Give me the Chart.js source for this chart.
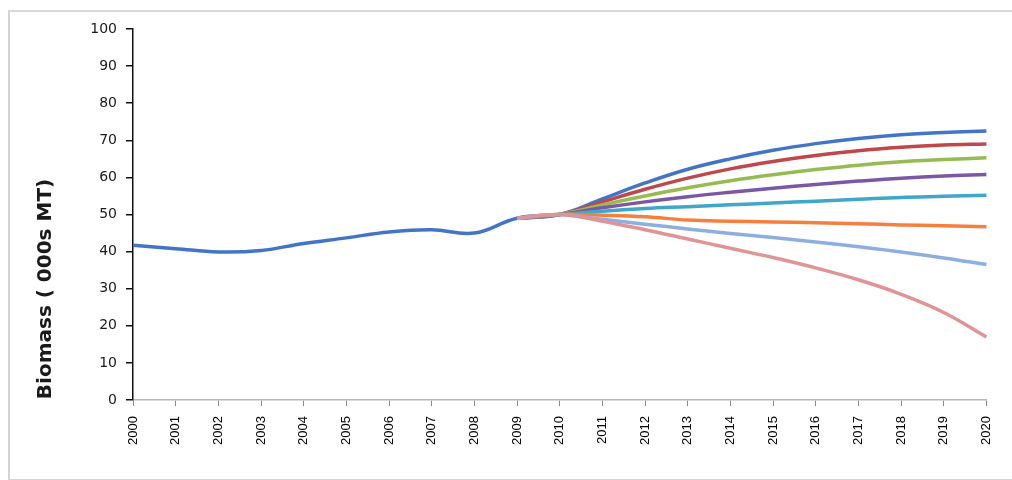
<!DOCTYPE html>
<html>
<head>
<meta charset="utf-8">
<script src="https://cdn.jsdelivr.net/npm/chart.js@4"></script>
<style>
  html, body { margin: 0; padding: 0; background: #ffffff; }
  #frame {
    position: absolute; left: 8px; top: 10px; width: 1010px; height: 467px;
    border-left: 2px solid #d2d2d8; border-top: 2px solid #d8d8dc; border-bottom: 2px solid #d2d2d8;
  }
  #chart { position: absolute; left: 0; top: 0; }
</style>
</head>
<body>
<div id="frame"></div>
<canvas id="chart" width="1012" height="480"></canvas>
<script>
// Years on the category axis
const years = ['2000','2001','2002','2003','2004','2005','2006','2007','2008','2009','2010',
               '2011','2012','2013','2014','2015','2016','2017','2018','2019','2020'];

// Observed biomass, 2000-2010 (thousand metric tonnes)
const observed = [41.7, 40.8, 39.9, 40.3, 42.2, 43.7, 45.3, 45.9, 45.0, 49.0, 50.0,
                  null, null, null, null, null, null, null, null, null, null];

// Projection scenarios, 2009-2020 (earlier years are empty)
const gap = [null, null, null, null, null, null, null, null, null];
const scenarioA = [...gap, 49.0, 50.0, 54.2, 58.5, 62.2, 65.0, 67.3, 69.1, 70.5, 71.5, 72.1, 72.5];
const scenarioB = [...gap, 49.0, 50.0, 53.4, 56.8, 59.8, 62.3, 64.3, 65.9, 67.2, 68.1, 68.7, 69.0];
const scenarioC = [...gap, 49.0, 50.0, 52.6, 55.0, 57.2, 59.1, 60.7, 62.1, 63.3, 64.2, 64.8, 65.3];
const scenarioD = [...gap, 49.0, 50.0, 51.8, 53.4, 54.8, 56.0, 57.1, 58.1, 59.0, 59.8, 60.4, 60.8];
const scenarioE = [...gap, 49.0, 50.0, 50.9, 51.6, 52.1, 52.6, 53.1, 53.6, 54.1, 54.6, 54.9, 55.2];
const scenarioF = [...gap, 49.0, 50.0, 49.8, 49.4, 48.5, 48.2, 48.0, 47.8, 47.5, 47.2, 47.0, 46.7];
const scenarioG = [...gap, 49.0, 50.0, 48.7, 47.4, 46.1, 44.9, 43.8, 42.6, 41.3, 39.9, 38.3, 36.5];
const scenarioH = [...gap, 49.0, 50.0, 48.2, 45.9, 43.4, 40.9, 38.4, 35.6, 32.4, 28.5, 23.6, 17.0];

// Value axis ticks
const yTicks = [0, 10, 20, 30, 40, 50, 60, 70, 80, 90, 100];
const yTitle = 'Biomass ( 000s MT)';

const seriesList = [observed, scenarioA, scenarioB, scenarioC, scenarioD, scenarioE, scenarioF, scenarioG, scenarioH];
const colours = ['#4275c6', '#4275c6', '#c0484a', '#96bb50', '#7b58a6', '#3fa8c8', '#f5803e', '#8eaee0', '#e09496'];

const datasets = seriesList.map((values, i) => ({
  data: values,
  borderColor: colours[i],
  backgroundColor: colours[i],
  borderWidth: 3.5,
  pointRadius: 0,
  tension: 0.4,
  fill: false,
  spanGaps: false,
  order: seriesList.length - 1 - i   // later scenarios drawn on top
}));

// Rotated axis title on the left
const axisTitle = {
  id: 'axisTitle',
  afterDraw(chart) {
    const ctx = chart.ctx;
    ctx.save();
    ctx.translate(46, 289);
    ctx.rotate(-Math.PI / 2);
    ctx.font = 'bold 20px "DejaVu Sans", sans-serif';
    ctx.fillStyle = '#1a1a1a';
    ctx.textAlign = 'center';
    ctx.textBaseline = 'middle';
    ctx.fillText(yTitle, 0, 0);
    ctx.restore();
  }
};

new Chart(document.getElementById('chart'), {
  type: 'line',
  data: { labels: years, datasets },
  plugins: [axisTitle],
  options: {
    responsive: false,
    animation: false,
    layout: { padding: { left: 0, right: 22, top: 29, bottom: 0 } },
    plugins: { legend: { display: false }, title: { display: false }, tooltip: { enabled: false } },
    scales: {
      x: {
        offset: false,
        afterFit(scale) { scale.height = 80; },
        border: { display: true, color: '#b9b9bd', width: 1.5 },
        grid: { drawOnChartArea: false, drawTicks: true, tickLength: 6, color: '#8a8a8e', lineWidth: 1 },
        ticks: {
          minRotation: 90, maxRotation: 90, autoSkip: false, padding: 10,
          color: '#000',
          font: { family: '"Liberation Sans", Arial, sans-serif', size: 13 }
        }
      },
      y: {
        min: 0, max: 100,
        afterFit(scale) { scale.width = 133; },
        afterBuildTicks(scale) { scale.ticks = yTicks.map(v => ({ value: v })); },
        border: { display: true, color: '#111', width: 1.5 },
        grid: { drawOnChartArea: false, drawTicks: true, tickLength: 7, color: '#111', lineWidth: 1.5 },
        ticks: {
          padding: 9,
          color: '#1a1a1a',
          font: { family: '"DejaVu Sans", sans-serif', size: 14 }
        }
      }
    }
  }
});
</script>
</body>
</html>
